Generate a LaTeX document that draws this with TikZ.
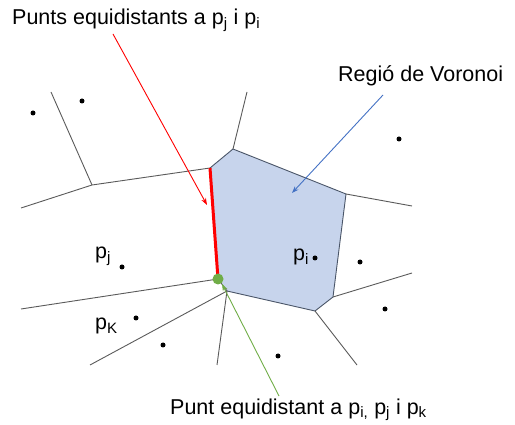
\documentclass[tikz,border=0pt]{standalone}
\usepackage{fontspec}
\setmainfont{Liberation Sans}
\usetikzlibrary{arrows.meta}
\definecolor{regfill}{HTML}{C7D4EC}
\definecolor{regedge}{HTML}{4A5568}
\definecolor{edgegray}{HTML}{5A5A5A}
\definecolor{redc}{HTML}{FF0000}
\definecolor{greenc}{HTML}{70AD47}
\definecolor{bluec}{HTML}{4472C4}
\tikzset{
  site/.style={circle,fill=black,inner sep=0pt,minimum size=5pt},
  vedge/.style={draw=edgegray,line width=0.9pt},
  lbl/.style={inner sep=0pt,font=\fontsize{21.5}{24}\selectfont},
  ptr/.style={-{Stealth[length=7pt,width=5pt]},line width=0.9pt}
}
\begin{document}
\begin{tikzpicture}[x=1pt,y=-1pt]
\useasboundingbox (0,0) rectangle (515,425);
% vertices
\coordinate (A) at (210,168);
\coordinate (B) at (233,149);
\coordinate (C) at (346,194);
\coordinate (D) at (333,297);
\coordinate (E) at (315,311);
\coordinate (F) at (227,291);
\coordinate (G) at (218,279);
\coordinate (H) at (92,185);
% outer ends
\coordinate (e1) at (51,92);
\coordinate (e2) at (21,208);
\coordinate (e3) at (247,92);
\coordinate (e4) at (412,206);
\coordinate (e5) at (412,273);
\coordinate (e6) at (357,365);
\coordinate (e7) at (217,365);
\coordinate (e8) at (90,365);
\coordinate (e9) at (21,309);
% region
\fill[regfill] (A) -- (B) -- (C) -- (D) -- (E) -- (F) -- (G) -- cycle;
\draw[draw=regedge,line width=0.9pt] (A) -- (B) -- (C) -- (D) -- (E) -- (F);
% other edges
\draw[vedge] (e1) -- (H);
\draw[vedge] (e2) -- (H) -- (A);
\draw[vedge] (B) -- (e3);
\draw[vedge] (C) -- (e4);
\draw[vedge] (D) -- (e5);
\draw[vedge] (E) -- (e6);
\draw[vedge] (F) -- (e7);
\draw[vedge] (F) -- (e8);
\draw[vedge] (G) -- (e9);
\draw[vedge] (G) -- (F);
% red shared edge
\draw[redc,line width=3pt] (A) -- (G);
% green point
\node[circle,fill=greenc,inner sep=0pt,minimum size=11pt] (gp) at (G) {};
% sites
\node[site] (s1) at (33,113) {};
\node[site] (s2) at (82,101) {};
\node[site] (s3) at (399,139) {};
\node[site] (pi) at (315,258) {};
\node[site] (s5) at (360,262) {};
\node[site] (s6) at (385,309) {};
\node[site] (s7) at (278,356) {};
\node[site] (pj) at (122,267) {};
\node[site] (pk) at (136,318) {};
\node[site] (s10) at (163,345) {};
% labels
\node[lbl,anchor=base west] (tTop) at (12,25) {Punts equidistants a p\textsubscript{j} i p\textsubscript{i}};
\node[lbl,anchor=base west] (tReg) at (338,82) {Regió de Voronoi};
\node[lbl,anchor=base west] (tBot) at (170,414) {Punt equidistant a p\textsubscript{i,} p\textsubscript{j} i p\textsubscript{k}};
\node[lbl,anchor=base west] (lpj) at (95,259) {p\textsubscript{j}};
\node[lbl,anchor=base west] (lpk) at (95,330) {p\textsubscript{K}};
\node[lbl,anchor=base west] (lpi) at (293,261) {p\textsubscript{i}};
% pointers
\coordinate (rs) at (113,34);
\coordinate (re) at (207,205);
\coordinate (bs) at (383,95);
\coordinate (be) at (292,193);
\coordinate (gs) at (279,396);
\coordinate (ge) at (222,284);
\draw[ptr,redc] (rs) -- (re);
\draw[ptr,bluec] (bs) -- (be);
\draw[ptr,greenc] (gs) -- (ge);
\end{tikzpicture}
\end{document}
